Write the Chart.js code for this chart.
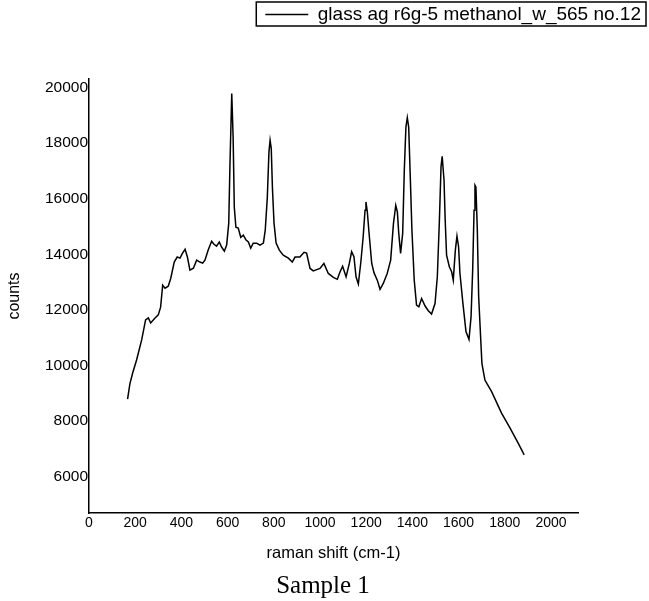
<!DOCTYPE html>
<html>
<head>
<meta charset="utf-8">
<title>Raman spectrum - Sample 1</title>
<script src="https://cdn.jsdelivr.net/npm/chart.js@4.4.0/dist/chart.umd.min.js"></script>
<style>
  html, body { margin: 0; padding: 0; background: #fff; }
  canvas { display: block; }
</style>
</head>
<body>
<canvas id="ramanChart" width="649" height="601"></canvas>
<script>
const ramanShift = [
  167, 177, 189, 206, 228, 245, 257, 267, 286, 300,
  310, 319, 329, 343, 354, 369, 382, 394, 405, 416,
  426, 437, 452, 466, 480, 492, 502, 516, 531, 541,
  552, 564, 574, 586, 596, 605, 610, 618, 624, 629,
  636, 646, 657, 668, 680, 690, 700, 711, 726, 740,
  755, 763, 772, 779, 784, 789, 794, 801, 810, 824,
  841, 863, 880, 892, 913, 931, 942, 957, 971, 1000,
  1017, 1036, 1058, 1075, 1087, 1098, 1113, 1127, 1137, 1147,
  1156, 1166, 1177, 1187, 1195, 1199, 1205, 1212, 1224, 1234,
  1248, 1260, 1274, 1291, 1306, 1318, 1328, 1335, 1341, 1349,
  1358, 1365, 1372, 1378, 1384, 1390, 1398, 1408, 1418, 1428,
  1440, 1455, 1469, 1483, 1498, 1508, 1517, 1524, 1529, 1537,
  1542, 1548, 1560, 1570, 1577, 1586, 1593, 1600, 1606, 1618,
  1632, 1645, 1654, 1661, 1667, 1671, 1675, 1681, 1687, 1696,
  1701, 1714, 1743, 1786, 1823, 1858, 1884
];
const counts = [
  8790, 9340, 9730, 10200, 10920, 11640, 11710, 11530, 11710, 11820,
  12100, 12890, 12780, 12850, 13140, 13720, 13900, 13860, 14040, 14180,
  13900, 13430, 13500, 13790, 13720, 13680, 13790, 14150, 14470, 14360,
  14290, 14440, 14260, 14110, 14330, 15120, 17130, 19780, 18200, 15690,
  14970, 14940, 14610, 14690, 14510, 14440, 14220, 14400, 14400, 14330,
  14400, 14870, 16050, 17670, 18100, 17810, 16410, 15120, 14400, 14150,
  13970, 13860, 13720, 13900, 13900, 14070, 14040, 13490, 13400, 13490,
  13670, 13310, 13170, 13100, 13370, 13570, 13190, 13670, 14090, 13910,
  13190, 12930, 13730, 14630, 15580, 15880, 15520, 14800, 13670, 13330,
  13070, 12740, 12950, 13310, 13790, 15100, 15760, 15520, 14750, 14030,
  14750, 17020, 18570, 18910, 18570, 17020, 14870, 13070, 12170, 12110,
  12410, 12140, 11970, 11850, 12230, 13190, 15230, 17140, 17520, 16660,
  15230, 13970, 13550, 13370, 13070, 14150, 14650, 14270, 13310, 12300,
  11220, 10940, 11750, 13430, 15580, 16480, 16420, 14920, 12470, 10920,
  10080, 9480, 9060, 8290, 7750, 7210, 6790
];

// Marcas de los ejes
const xTickValues = [0, 200, 400, 600, 800, 1000, 1200, 1400, 1600, 1800, 2000];
const yTickValues = [6000, 8000, 10000, 12000, 14000, 16000, 18000, 20000];

const seriesLabel = 'glass ag r6g-5 methanol_w_565 no.12';
const xTitle = 'raman shift (cm-1)';
const yTitle = 'counts';
const captionText = 'Sample 1';

// Marco alrededor de la leyenda (estilo Origin)
const legendFrame = {
  id: 'legendFrame',
  afterDraw(chart) {
    const lg = chart.legend;
    if (!lg || !lg.legendHitBoxes || !lg.legendHitBoxes.length) return;
    const hb = lg.legendHitBoxes[0];
    const ctx = chart.ctx;
    ctx.save();
    ctx.strokeStyle = '#000';
    ctx.lineWidth = 1.5;
    ctx.strokeRect(hb.left - 9, hb.top - 3, hb.width + 14, hb.height + 5);
    ctx.restore();
  }
};

function initializeChart() {
  const canvas = document.getElementById('ramanChart');
  if (!canvas) {
    console.error('No canvas found');
    return null;
  }
  const ctx = canvas.getContext('2d');

  const points = ramanShift.map((x, i) => ({ x: x, y: counts[i] }));

  return new Chart(ctx, {
    type: 'line',
    data: {
      datasets: [{
        label: seriesLabel,
        data: points,
        borderColor: '#000',
        backgroundColor: '#000',
        borderWidth: 1.5,
        pointRadius: 0,
        tension: 0,
        fill: false
      }]
    },
    plugins: [legendFrame],
    options: {
      responsive: false,
      animation: false,
      devicePixelRatio: 1,
      layout: {
        padding: { left: 0, right: 3, top: 0, bottom: 0 }
      },
      plugins: {
        legend: {
          display: true,
          position: 'top',
          align: 'end',
          labels: {
            color: '#000',
            usePointStyle: true,
            pointStyle: 'line',
            pointStyleWidth: 43,
            padding: 5,
            font: { family: "'Liberation Sans', Arial, sans-serif", size: 19 }
          }
        },
        title: {
          display: true,
          position: 'bottom',
          text: captionText,
          color: '#000',
          padding: { top: 0, bottom: 0 },
          font: { family: "'Liberation Serif', 'Times New Roman', serif", size: 25, weight: 'normal' }
        },
        tooltip: { enabled: false }
      },
      scales: {
        x: {
          type: 'linear',
          position: 'bottom',
          min: 0,
          max: 2117,
          afterBuildTicks: scale => { scale.ticks = xTickValues.map(v => ({ value: v })); },
          afterFit: scale => { scale.height = 58; },
          grid: { display: false, drawTicks: false },
          border: { display: true, color: '#000', width: 1.5 },
          ticks: {
            color: '#000',
            padding: 2,
            maxRotation: 0,
            autoSkip: false,
            font: { family: "'Liberation Sans', Arial, sans-serif", size: 14 },
            callback: value => String(value)
          },
          title: {
            display: true,
            text: xTitle,
            color: '#000',
            padding: { top: 0, bottom: 8 },
            font: { family: "'Liberation Sans', Arial, sans-serif", size: 16.5 }
          }
        },
        y: {
          type: 'linear',
          position: 'left',
          min: 4700,
          max: 20300,
          afterBuildTicks: scale => { scale.ticks = yTickValues.map(v => ({ value: v })); },
          afterFit: scale => { scale.width = 89; },
          grid: { display: false, drawTicks: false },
          border: { display: true, color: '#000', width: 1.5 },
          ticks: {
            color: '#000',
            padding: 1,
            font: { family: "'Liberation Sans', Arial, sans-serif", size: 15.5 },
            callback: value => String(value)
          },
          title: {
            display: true,
            text: yTitle,
            color: '#000',
            padding: { top: 5, bottom: 0 },
            font: { family: "'Liberation Sans', Arial, sans-serif", size: 16 }
          }
        },
        // Ejes vacíos para reservar el espacio superior y derecho
        xTop: {
          type: 'linear',
          position: 'top',
          display: true,
          grid: { display: false, drawTicks: false },
          border: { display: false },
          ticks: { display: false },
          afterFit: scale => { scale.height = 45; }
        },
        yRight: {
          type: 'linear',
          position: 'right',
          display: true,
          grid: { display: false, drawTicks: false },
          border: { display: false },
          ticks: { display: false },
          afterFit: scale => { scale.width = 68; }
        }
      }
    }
  });
}

window.ramanChart = initializeChart();
</script>
</body>
</html>
